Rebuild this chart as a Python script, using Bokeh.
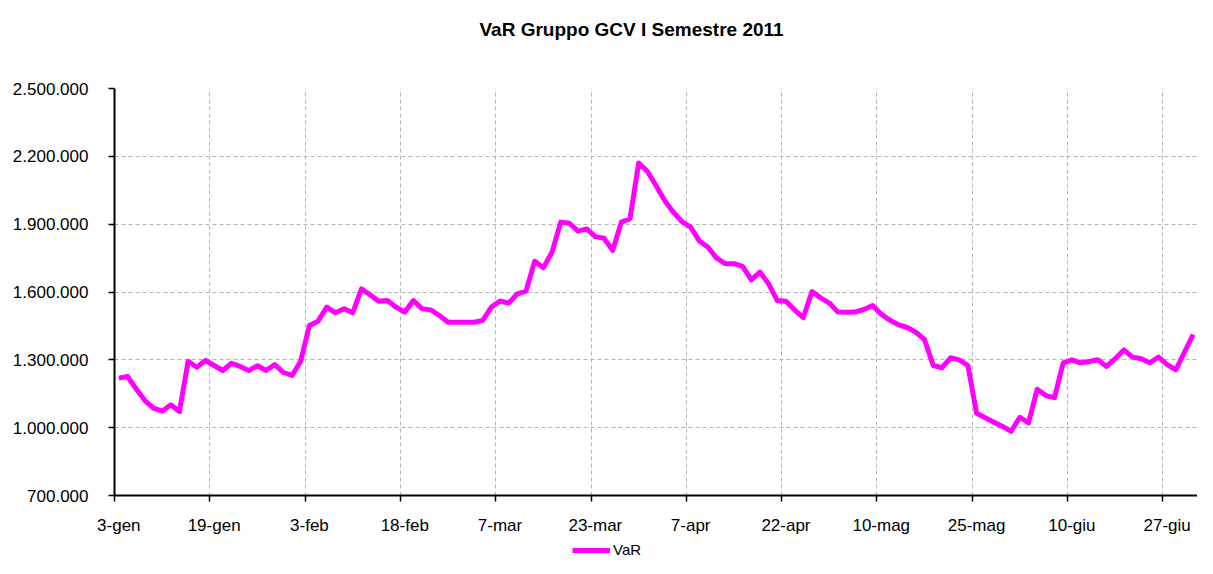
from bokeh.plotting import figure
from bokeh.layouts import column
from bokeh.models import FixedTicker, Legend, LegendItem, Title
from bokeh.embed import file_html
from bokeh.resources import INLINE

title_text = "VaR Gruppo GCV I Semestre 2011"
series_name = "VaR"

var_values = [
    1219000, 1226000, 1172000, 1120000, 1086000, 1073000, 1101000, 1071000, 1294000, 1267000,
    1297000, 1275000, 1253000, 1285000, 1271000, 1253000, 1274000, 1253000, 1279000, 1244000,
    1231000, 1295000, 1452000, 1471000, 1533000, 1508000, 1526000, 1508000, 1614000, 1588000,
    1559000, 1562000, 1533000, 1511000, 1562000, 1526000, 1521000, 1496000, 1466000, 1466000,
    1466000, 1466000, 1474000, 1533000, 1560000, 1551000, 1592000, 1604000, 1736000, 1707000,
    1776000, 1909000, 1904000, 1869000, 1879000, 1845000, 1838000, 1784000, 1909000, 1924000,
    2170000, 2134000, 2071000, 2005000, 1953000, 1911000, 1887000, 1826000, 1798000, 1750000,
    1725000, 1725000, 1713000, 1654000, 1688000, 1636000, 1562000, 1559000, 1521000, 1486000,
    1602000, 1574000, 1551000, 1511000, 1510000, 1511000, 1523000, 1540000, 1502000, 1475000,
    1455000, 1443000, 1422000, 1389000, 1275000, 1265000, 1309000, 1300000, 1275000, 1064000,
    1044000, 1024000, 1005000, 984000, 1046000, 1021000, 1170000, 1142000, 1133000, 1287000,
    1300000, 1287000, 1293000, 1300000, 1271000, 1305000, 1344000, 1312000, 1305000, 1287000,
    1312000, 1279000, 1256000, 1334000, 1412000,
]

x_tick_labels = ["3-gen", "19-gen", "3-feb", "18-feb", "7-mar", "23-mar",
                 "7-apr", "22-apr", "10-mag", "25-mag", "10-giu", "27-giu"]
label_step = 11  # trading days between labelled dates

y_ticks = [700000, 1000000, 1300000, 1600000, 1900000, 2200000, 2500000]
y_tick_labels = ["700.000", "1.000.000", "1.300.000", "1.600.000",
                 "1.900.000", "2.200.000", "2.500.000"]

FONT = "Liberation Sans"
LINE_COLOR = "#ff00ff"
n = len(var_values)
xs = list(range(n))

p = figure(frame_width=1083, frame_height=407, output_backend="svg",
           toolbar_location=None,
           x_range=(-0.5, n - 0.5), y_range=(y_ticks[0], y_ticks[-1]),
           min_border_left=114, min_border_right=0, min_border_top=88,
           min_border_bottom=45)
p.title = Title(text=title_text, align="left", offset=365, vertical_align="top",
                standoff=28, text_font=FONT, text_font_style="bold",
                text_font_size="19px", text_color="black")
# blank spacer between the title and the plot area
p.add_layout(Title(text=" ", text_font_size="10px", standoff=20), "above")
p.outline_line_color = None
p.background_fill_color = "white"
p.border_fill_color = "white"

centers = [label_step * k for k in range(len(x_tick_labels))]
bounds = [c - 0.5 for c in centers]

xa = p.xaxis[0]
xa.ticker = FixedTicker(ticks=centers, minor_ticks=bounds)
xa.major_label_overrides = {c: t for c, t in zip(centers, x_tick_labels)}
xa.major_tick_out = 0
xa.major_tick_in = 0
xa.minor_tick_out = 6
xa.minor_tick_in = 0
xa.minor_tick_line_color = "black"
xa.minor_tick_line_width = 1.5
xa.axis_line_color = "black"
xa.axis_line_width = 2
xa.major_label_standoff = 14
xa.major_label_text_font = FONT
xa.major_label_text_font_size = "17px"
xa.major_label_text_color = "black"

ya = p.yaxis[0]
ya.ticker = FixedTicker(ticks=y_ticks, minor_ticks=[])
ya.major_label_overrides = {v: t for v, t in zip(y_ticks, y_tick_labels)}
ya.major_tick_out = 6
ya.major_tick_in = 0
ya.major_tick_line_color = "black"
ya.major_tick_line_width = 1.5
ya.axis_line_color = "black"
ya.axis_line_width = 2
ya.major_label_standoff = 20
ya.major_label_text_font = FONT
ya.major_label_text_font_size = "17px"
ya.major_label_text_color = "black"

p.xgrid.ticker = FixedTicker(ticks=bounds[1:])
for g in (p.xgrid, p.ygrid):
    g.grid_line_color = "#b4b4b4"
    g.grid_line_dash = "4 3"
    g.grid_line_width = 1

p.line(xs, var_values, line_color=LINE_COLOR, line_width=5, line_join="round")

# legend strip underneath the chart (series drawn out of view, only its key shows)
lg = figure(width=1197, height=18, output_backend="svg", toolbar_location=None,
            x_axis_location=None, y_axis_location=None,
            x_range=(-2, -1), y_range=(0, 1), min_border=0)
lg.outline_line_color = None
lg.xgrid.visible = False
lg.ygrid.visible = False
key = lg.line(xs, var_values, line_color=LINE_COLOR, line_width=5)
legend = Legend(items=[LegendItem(label=series_name, renderers=[key])],
                location=(458, 0), orientation="horizontal",
                border_line_color=None, background_fill_alpha=0,
                padding=0, margin=0, spacing=0,
                glyph_width=38, glyph_height=14, label_height=14,
                label_standoff=3, label_text_font=FONT,
                label_text_font_size="15px", label_text_color="black")
lg.add_layout(legend)

layout = column(p, lg, spacing=0)
open("out.html", "w").write(file_html(layout, INLINE))
